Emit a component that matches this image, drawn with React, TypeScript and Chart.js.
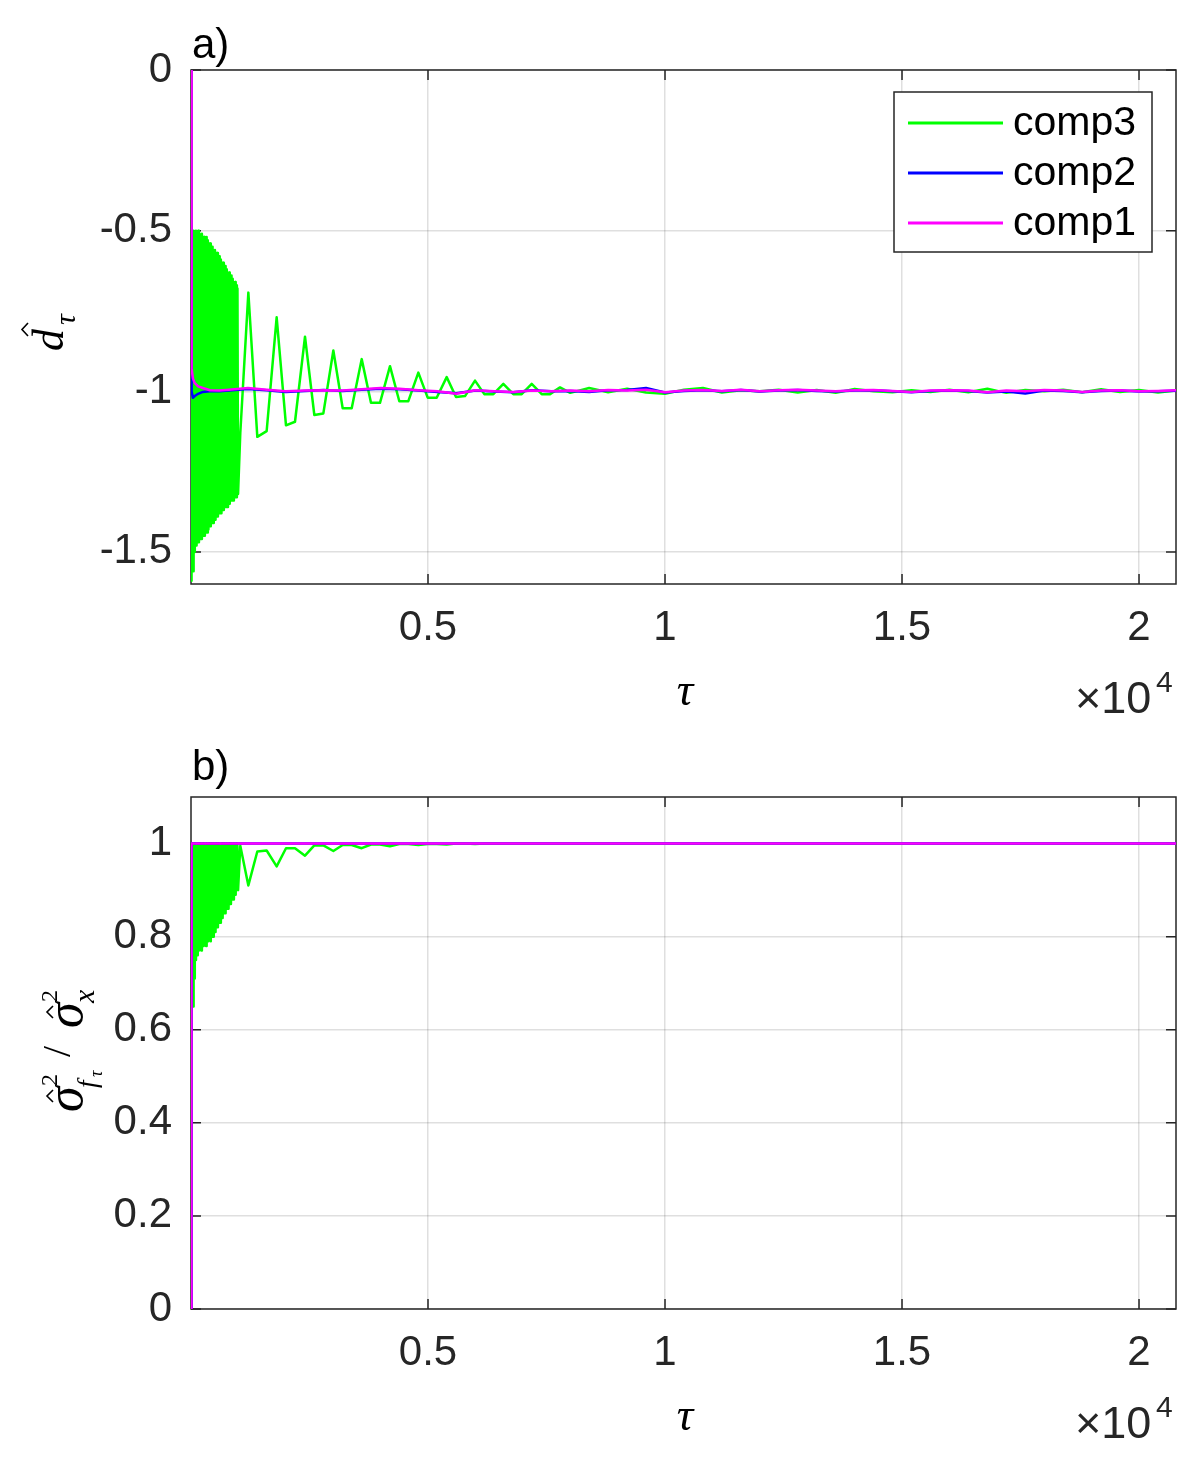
import { useEffect, useRef } from "react";
import { Chart, registerables } from "chart.js";

Chart.register(...registerables);

// tau axis (shown in units of 10^4)
const tauTicks = [5000, 10000, 15000, 20000];
const tauTickLabels = ["0.5", "1", "1.5", "2"];
const tauMax = 20780;

const dTicks = [0, -0.5, -1, -1.5];
const dTickLabels = ["0", "-0.5", "-1", "-1.5"];
const ratioTicks = [0, 0.2, 0.4, 0.6, 0.8, 1];
const ratioTickLabels = ["0", "0.2", "0.4", "0.6", "0.8", "1"];

const seriesNames = ["comp3", "comp2", "comp1"];
const seriesColors = ["#00ff00", "#0000ff", "#ff00ff"];

// ---------- panel a) ----------
const headTauA = [0, 6, 12, 20, 40, 80, 150, 250, 400, 600];
const comp1HeadA = [0, -0.5, -0.85, -0.93, -0.96, -0.975, -0.985, -0.99, -0.997, -0.998];
const comp2HeadA = [0, -0.6, -0.95, -1.0, -1.02, -1.015, -1.008, -1.002, -1.0, -1.0];

const tailTau = [
  800, 1200, 1600, 2000, 2400, 2800, 3200, 3600, 4000, 4400,
  4800, 5200, 5600, 6000, 6400, 6800, 7200, 7600, 8000, 8400,
  8800, 9200, 9600, 10000, 10400, 10800, 11200, 11600, 12000, 12400,
  12800, 13200, 13600, 14000, 14400, 14800, 15200, 15600, 16000, 16400,
  16800, 17200, 17600, 18000, 18400, 18800, 19200, 19600, 20000, 20400, 20800,
];
const comp1TailA = [
  -0.995, -0.99, -0.995, -1.0, -0.998, -0.997, -0.998, -0.994, -0.99, -0.992,
  -0.997, -1.0, -1.008, -0.997, -1.0, -1.002, -0.998, -1.0, -0.998, -1.0,
  -0.996, -0.998, -0.995, -1.003, -0.998, -0.996, -0.999, -0.995, -1.0, -0.997,
  -0.995, -0.998, -1.0, -0.997, -0.996, -0.999, -1.002, -0.998, -0.997, -0.998,
  -1.003, -0.998, -1.0, -0.996, -0.998, -1.002, -0.998, -0.997, -1.0, -0.999, -0.997,
];
const comp2TailA = [
  -0.998, -0.993, -0.997, -1.002, -0.999, -0.996, -0.999, -0.995, -0.992, -0.994,
  -0.998, -1.002, -1.006, -0.998, -1.001, -1.003, -0.997, -1.0, -0.999, -1.002,
  -0.997, -0.996, -0.99, -1.004, -0.999, -0.997, -1.0, -0.996, -1.001, -0.998,
  -0.996, -0.999, -1.001, -0.998, -0.997, -1.0, -1.003, -0.999, -0.998, -0.999,
  -1.004, -1.001, -1.007, -0.998, -0.999, -1.003, -0.999, -0.998, -1.001, -1.0, -0.998,
];

// comp3 burst: alternating high / low samples, one pair every 25 steps of tau
const burstHighA = [
  -0.49, -0.5, -0.5, -0.51, -0.5, -0.51, -0.5, -0.51, -0.52, -0.51,
  -0.52, -0.52, -0.53, -0.52, -0.53, -0.54, -0.54, -0.55, -0.55, -0.56,
  -0.56, -0.57, -0.57, -0.58, -0.58, -0.59, -0.6, -0.6, -0.61, -0.61,
  -0.62, -0.63, -0.63, -0.64, -0.64, -0.65, -0.66, -0.66, -0.67, -0.68,
];
const burstLowA = [
  -1.59, -1.56, -1.5, -1.48, -1.48, -1.47, -1.47, -1.46, -1.46, -1.45,
  -1.45, -1.45, -1.44, -1.44, -1.43, -1.42, -1.42, -1.41, -1.41, -1.4,
  -1.4, -1.39, -1.39, -1.38, -1.38, -1.38, -1.37, -1.37, -1.36, -1.36,
  -1.36, -1.35, -1.35, -1.34, -1.34, -1.34, -1.33, -1.33, -1.33, -1.32,
];

// comp3 ringing after the burst
const ringTau = [
  1040, 1210, 1399, 1596, 1807, 2004, 2194, 2405, 2602, 2792,
  3003, 3200, 3390, 3601, 3797, 3987, 4198, 4395, 4585, 4796,
  4993, 5183, 5394, 5591, 5781, 5992, 6188, 6378, 6589, 6800,
  6976, 7188, 7399, 7574, 7785,
];
const ringA = [
  -1.13, -0.693, -1.142, -1.124, -0.77, -1.106, -1.095, -0.83, -1.074, -1.069,
  -0.873, -1.053, -1.053, -0.9, -1.036, -1.036, -0.922, -1.031, -1.031, -0.942,
  -1.02, -1.02, -0.956, -1.018, -1.015, -0.967, -1.009, -1.009, -0.977, -1.009,
  -1.009, -0.977, -1.009, -1.009, -0.988,
];
// comp3 tail, on tailTau from 8000 on
const comp3TailA = [
  -1.005, -0.99, -1.003, -0.992, -1.004, -1.008, -0.995, -0.99, -1.004, -0.997,
  -1.0, -0.995, -1.004, -0.996, -1.005, -0.993, -1.0, -1.003, -0.997, -1.002,
  -0.995, -1.003, -0.992, -1.005, -0.996, -1.0, -0.995, -1.003, -0.994, -1.002,
  -0.996, -1.004, -0.997,
];

// ---------- panel b) ----------
const comp1TauB = [0, 6, 15, 20800];
const comp1B = [0, 0.92, 1, 1];
const comp2TauB = [0, 8, 20, 20800];
const comp2B = [0, 0.96, 1, 1];

const burstHighB = [
  0.98, 1.0, 0.99, 1.0, 0.995, 0.99, 1.0, 0.995, 1.0, 0.99,
  1.0, 0.995, 0.99, 1.0, 0.995, 1.0, 0.99, 1.0, 0.995, 1.0,
  0.99, 1.0, 0.995, 1.0, 0.99, 0.995, 1.0, 0.99, 1.0, 0.995,
  1.0, 0.99, 1.0, 0.995, 1.0, 0.99, 1.0, 0.995, 1.0, 0.995,
];
const burstLowB = [
  0.63, 0.65, 0.71, 0.75, 0.77, 0.76, 0.77, 0.78, 0.77, 0.78,
  0.78, 0.79, 0.78, 0.79, 0.79, 0.8, 0.79, 0.8, 0.8, 0.81,
  0.81, 0.82, 0.82, 0.83, 0.83, 0.84, 0.84, 0.85, 0.85, 0.86,
  0.86, 0.86, 0.87, 0.87, 0.88, 0.88, 0.89, 0.89, 0.9, 0.9,
];
const ringB = [
  0.995, 0.91, 0.983, 0.985, 0.951, 0.99, 0.99, 0.974, 0.996, 0.996,
  0.984, 0.997, 0.997, 0.99, 0.998, 0.998, 0.994, 0.999, 0.999, 0.997,
  0.999, 0.999, 0.998, 1.0, 1.0, 0.999, 1.0, 1.0, 1.0, 1.0,
  1.0, 1.0, 1.0, 1.0, 1.0,
];
const comp3TailTauB = [8000, 20800];
const comp3TailB = [1, 1];

type Pt = { x: number; y: number };
const pts = (tau: number[], v: number[]): Pt[] => tau.map((t, i) => ({ x: t, y: v[i] }));
const burst = (high: number[], low: number[]): Pt[] =>
  high.flatMap((h, i) => [
    { x: i * 25 + 5, y: h },
    { x: i * 25 + 17.5, y: low[i] },
  ]);

const FONT = "'Liberation Sans', Arial, Helvetica, sans-serif";
const MATH = "'Liberation Serif', 'DejaVu Serif', serif";
const INK = "#262626";
const GRID = "rgba(38,38,38,0.15)";

const seriesA: Pt[][] = [
  [{ x: 0, y: 0 }, ...burst(burstHighA, burstLowA), ...pts(ringTau, ringA), ...pts(tailTau.slice(18), comp3TailA)],
  [...pts(headTauA, comp2HeadA), ...pts(tailTau, comp2TailA)],
  [...pts(headTauA, comp1HeadA), ...pts(tailTau, comp1TailA)],
];
const seriesB: Pt[][] = [
  [{ x: 0, y: 0 }, ...burst(burstHighB, burstLowB), ...pts(ringTau, ringB), ...pts(comp3TailTauB, comp3TailB)],
  pts(comp2TauB, comp2B),
  pts(comp1TauB, comp1B),
];

function hat(ctx: CanvasRenderingContext2D, x0: number, x1: number, yBase: number, h: number) {
  ctx.beginPath();
  ctx.moveTo(x0, yBase);
  ctx.lineTo((x0 + x1) / 2, yBase - h);
  ctx.lineTo(x1, yBase);
  ctx.lineWidth = 1.6;
  ctx.strokeStyle = "#000";
  ctx.stroke();
}

function drawTauAxisText(ctx: CanvasRenderingContext2D, base: number) {
  ctx.fillStyle = "#000";
  ctx.textAlign = "center";
  ctx.textBaseline = "alphabetic";
  ctx.font = `italic 46px ${MATH}`;
  ctx.fillText("τ", 685, base);
  ctx.fillStyle = INK;
  ctx.textAlign = "left";
  ctx.font = `45px ${FONT}`;
  ctx.fillText("×10", 1075, base + 8);
  ctx.font = `30px ${FONT}`;
  ctx.fillText("4", 1156, base - 13);
}

function decorateA(ctx: CanvasRenderingContext2D) {
  ctx.fillStyle = "#000";
  ctx.textAlign = "left";
  ctx.textBaseline = "alphabetic";
  ctx.font = `42px ${FONT}`;
  ctx.fillText("a)", 192, 58);
  drawTauAxisText(ctx, 705);
  // y title: d-hat with tau subscript, rotated
  ctx.save();
  ctx.translate(63, 350);
  ctx.rotate(-Math.PI / 2);
  ctx.fillStyle = "#000";
  ctx.font = `italic 44px ${MATH}`;
  ctx.fillText("d", -1, 0);
  ctx.font = `italic 30px ${MATH}`;
  ctx.fillText("τ", 25, 12);
  hat(ctx, 14, 27, -35, 6);
  ctx.restore();
}

function decorateB(ctx: CanvasRenderingContext2D) {
  ctx.fillStyle = "#000";
  ctx.textAlign = "left";
  ctx.textBaseline = "alphabetic";
  ctx.font = `42px ${FONT}`;
  ctx.fillText("b)", 192, 50);
  drawTauAxisText(ctx, 700);
  ctx.save();
  ctx.translate(82, 383);
  ctx.rotate(-Math.PI / 2);
  ctx.fillStyle = "#000";
  ctx.font = `italic 52px ${MATH}`;
  ctx.fillText("σ", 1, 0);
  hat(ctx, 11, 23, -29, 6);
  ctx.font = `24px ${MATH}`;
  ctx.fillText("2", 27, -25);
  ctx.font = `italic 27px ${MATH}`;
  ctx.fillText("f", 25, 14);
  ctx.font = `italic 18px ${MATH}`;
  ctx.fillText("τ", 36, 20);
  ctx.font = `40px ${MATH}`;
  ctx.fillText("/", 56, -12);
  ctx.font = `italic 52px ${MATH}`;
  ctx.fillText("σ", 85, 0);
  hat(ctx, 95, 107, -29, 6);
  ctx.font = `24px ${MATH}`;
  ctx.fillText("2", 111, -25);
  ctx.font = `italic 30px ${MATH}`;
  ctx.fillText("x", 110, 12);
  ctx.restore();
}

interface PanelProps {
  top: number;
  height: number;
  areaTop: number;
  xAxisHeight: number;
  yMin: number;
  yMax: number;
  yTicks: number[];
  yTickLabels: string[];
  series: Pt[][];
  legend: boolean;
  decorate: (ctx: CanvasRenderingContext2D) => void;
}

const Panel: React.FC<PanelProps> = (p) => {
  const canvasRef = useRef<HTMLCanvasElement | null>(null);

  useEffect(() => {
    if (!canvasRef.current) return;

    const frame = {
      id: "matlabFrame",
      beforeDatasetsDraw(chart: Chart) {
        const { ctx, chartArea: a, scales } = chart;
        ctx.save();
        ctx.strokeStyle = INK;
        ctx.lineWidth = 1.5;
        ctx.beginPath();
        for (const t of scales.x.ticks) {
          const px = scales.x.getPixelForValue(t.value);
          ctx.moveTo(px, a.bottom);
          ctx.lineTo(px, a.bottom - 10);
          ctx.moveTo(px, a.top);
          ctx.lineTo(px, a.top + 10);
        }
        for (const t of scales.y.ticks) {
          const py = scales.y.getPixelForValue(t.value);
          ctx.moveTo(a.left, py);
          ctx.lineTo(a.left + 10, py);
          ctx.moveTo(a.right, py);
          ctx.lineTo(a.right - 10, py);
        }
        ctx.stroke();
        ctx.strokeRect(a.left, a.top, a.right - a.left, a.bottom - a.top);
        ctx.restore();
      },
      afterDraw(chart: Chart) {
        const { ctx, chartArea: a } = chart;
        ctx.save();
        if (p.legend) {
          const lx = a.right - 282;
          const ly = a.top + 22;
          ctx.fillStyle = "#fff";
          ctx.fillRect(lx, ly, 258, 160);
          ctx.strokeStyle = INK;
          ctx.lineWidth = 1.5;
          ctx.strokeRect(lx, ly, 258, 160);
          seriesNames.forEach((name, i) => {
            const y = ly + 31 + i * 50;
            ctx.beginPath();
            ctx.moveTo(lx + 14, y);
            ctx.lineTo(lx + 109, y);
            ctx.strokeStyle = seriesColors[i];
            ctx.lineWidth = 3;
            ctx.stroke();
            ctx.fillStyle = "#000";
            ctx.font = `41px ${FONT}`;
            ctx.textAlign = "left";
            ctx.textBaseline = "middle";
            ctx.fillText(name, lx + 119, y + 1);
          });
        }
        p.decorate(ctx);
        ctx.restore();
      },
    };

    const chart = new Chart(canvasRef.current, {
      type: "line",
      data: {
        datasets: p.series.map((data, i) => ({
          label: seriesNames[i],
          data,
          borderColor: seriesColors[i],
          backgroundColor: seriesColors[i],
          borderWidth: 2.5,
          pointRadius: 0,
          fill: false,
          order: 3 - i,
        })),
      },
      options: {
        animation: false,
        responsive: true,
        maintainAspectRatio: false,
        events: [],
        layout: { padding: { top: p.areaTop, right: 24, bottom: 0, left: 0 } },
        plugins: { legend: { display: false }, tooltip: { enabled: false } },
        elements: { line: { tension: 0, borderJoinStyle: "round", borderCapStyle: "round" } },
        scales: {
          x: {
            type: "linear",
            min: 0,
            max: tauMax,
            afterBuildTicks: (s: any) => {
              s.ticks = tauTicks.map((v) => ({ value: v }));
            },
            afterFit: (s: any) => {
              s.height = p.xAxisHeight;
            },
            grid: { color: GRID, lineWidth: 1.5, drawTicks: false },
            border: { display: false },
            ticks: {
              autoSkip: false,
              maxRotation: 0,
              padding: 19,
              color: INK,
              font: { family: FONT, size: 42 },
              callback: (v: any) => tauTickLabels[tauTicks.indexOf(Number(v))],
            },
          },
          y: {
            type: "linear",
            min: p.yMin,
            max: p.yMax,
            afterBuildTicks: (s: any) => {
              s.ticks = p.yTicks.map((v) => ({ value: v }));
            },
            afterFit: (s: any) => {
              s.width = 191;
            },
            grid: { color: GRID, lineWidth: 1.5, drawTicks: false },
            border: { display: false },
            ticks: {
              autoSkip: false,
              padding: 19,
              color: INK,
              font: { family: FONT, size: 42 },
              callback: (v: any) => p.yTickLabels[p.yTicks.indexOf(Number(v))],
            },
          },
        },
      },
      plugins: [frame],
    });

    return () => {
      chart.destroy();
    };
  }, [p]);

  return (
    <div style={{ position: "absolute", left: 0, top: p.top, width: 1200, height: p.height }}>
      <canvas ref={canvasRef}></canvas>
    </div>
  );
};

const panelA: PanelProps = {
  top: 0,
  height: 730,
  areaTop: 70,
  xAxisHeight: 146,
  yMin: -1.6,
  yMax: 0,
  yTicks: dTicks,
  yTickLabels: dTickLabels,
  series: seriesA,
  legend: true,
  decorate: decorateA,
};

const panelB: PanelProps = {
  top: 730,
  height: 733,
  areaTop: 67,
  xAxisHeight: 154,
  yMin: 0,
  yMax: 1.1,
  yTicks: ratioTicks,
  yTickLabels: ratioTickLabels,
  series: seriesB,
  legend: false,
  decorate: decorateB,
};

export default function App() {
  return (
    <div style={{ position: "absolute", left: 0, top: 0, width: 1200, height: 1463, background: "#fff" }}>
      <Panel {...panelA} />
      <Panel {...panelB} />
    </div>
  );
}
